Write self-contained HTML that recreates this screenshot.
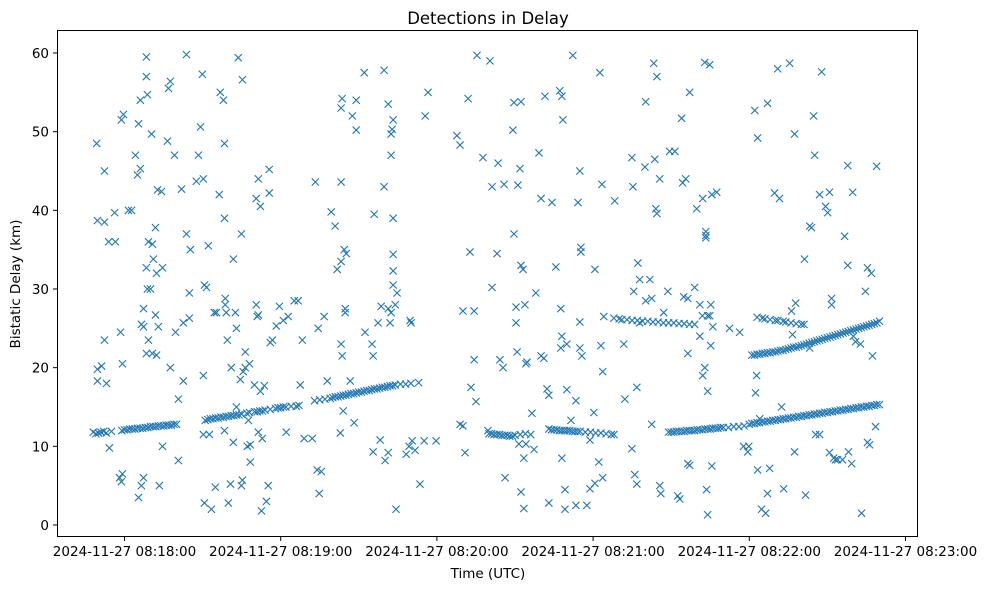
<!DOCTYPE html>
<html><head><meta charset="utf-8"><style>
html,body{margin:0;padding:0;background:#fff;}
svg{display:block;font-family:"DejaVu Sans","Liberation Sans",sans-serif;}
</style></head><body>
<svg id="chart" width="988" height="590" viewBox="0 0 988 590">
<rect x="0" y="0" width="988" height="590" fill="#fff"/>
<text x="488" y="24" text-anchor="middle" font-size="16.5" fill="#000">Detections in Delay</text>
<g id="marks"></g>
<rect x="57.5" y="30.5" width="860" height="506" fill="none" stroke="#000" stroke-width="1"/>
<g id="yaxis"></g>
<g id="xaxis"></g>
<text x="488" y="578" text-anchor="middle" font-size="13.5">Time (UTC)</text>
<text transform="translate(20,284) rotate(-90)" text-anchor="middle" font-size="13.5">Bistatic Delay (km)</text>
</svg>
<script>
// time in seconds after 2024-11-27 08:18:00, delay in km
const yTicks = [0,10,20,30,40,50,60];
const xTicks = [0,60,120,180,240,300];
const xTickLabels = ["2024-11-27 08:18:00","2024-11-27 08:19:00","2024-11-27 08:20:00","2024-11-27 08:21:00","2024-11-27 08:22:00","2024-11-27 08:23:00"];

const noiseLeft = [[-10.7,48.5],[-10.4,38.7],[-7.7,45],[-7.7,38.5],[-6.1,36],[-3.5,36],[-3.8,39.7],[1.5,40],[2.7,40],[-7.7,23.5],[-10.4,19.8],[-10.4,18.3],[-8.8,20.2],[-6.9,18],[-5.8,9.8],[-0.8,20.5],[-1.5,24.5],[-1.9,6],[-1.2,5.5],[-0.8,6.5],[4.2,47],[5.0,44.5],[6.1,45.3],[6.1,54],[8.4,59.5],[8.4,57],[8.8,54.7],[-1.2,51.5],[-0.4,52.2],[5.4,51],[10.4,49.7],[12.7,42.6],[14.2,42.4],[16.9,55.5],[17.6,56.4],[16.5,48.8],[19.2,47],[6.5,25.5],[7.3,25.2],[8.8,30],[7.3,27.5],[10.0,30],[9.2,23.5],[10.7,21.8],[9.2,36],[8.4,32.7],[11.1,33.8],[10.7,35.7],[11.9,37.8],[12.3,32],[14.6,32.7],[12.3,21.6],[8.4,21.8],[11.9,26.7],[13.0,25.2],[17.6,20],[19.6,24.5],[20.7,16],[20.7,8.2],[5.4,3.5],[7.3,6],[6.5,5],[13.4,5],[14.6,10],[22.6,25.7],[24.9,26.3],[21.9,42.7],[23.8,59.8],[23.8,37],[25.3,35],[24.9,29.5],[27.6,43.7],[28.4,47],[29.2,50.6],[30.3,44],[29.9,57.3],[30.7,30.5],[31.5,30.2],[32.2,35.5],[34.5,27],[35.3,27],[30.3,19],[22.6,18.3],[30.3,11.5],[32.6,11.5],[30.7,2.8],[33.4,2],[34.9,4.8],[36.8,55],[38.0,54],[38.4,48.5],[36.4,42],[38.4,39],[38.7,28],[38.7,28.8],[39.1,27],[39.5,23.5],[41.0,20],[38.4,12],[40.7,5.2],[39.9,2.8],[41.8,33.8],[43.7,59.4],[45.3,56.6],[44.9,37],[42.6,27],[43.0,25],[46.4,22],[45.6,19.5],[46.4,20],[44.5,18.5],[43.0,15],[47.6,13.3],[41.8,10.5],[47.2,10],[48.3,8],[44.9,5],[45.3,5.7],[50.6,41.5],[51.4,44],[52.2,40.5],[55.6,42.2],[55.6,45.2],[50.6,28],[51.4,26.7],[51.0,26.5],[56.8,23.5],[56.0,23.2],[49.9,17.8],[52.2,17],[53.7,17.7],[48.0,20.5],[51.4,11.8],[52.9,11],[48.3,10.2],[52.6,1.8],[54.5,3],[55.2,5],[58.3,25.3],[61.0,26],[59.5,27.8],[65.2,28.5],[62.9,26.5],[66.7,28.5],[62.1,11.8],[68.3,23.5],[67.5,17.8],[69.0,11],[73.3,43.6],[74.4,25],[72.1,11],[74.0,7],[75.6,6.8],[74.8,4],[77.9,18.3],[76.7,26.5],[79.4,39.8],[80.9,38],[81.7,32.5],[83.2,33.5],[83.2,43.6],[83.6,54.2],[83.2,53],[85.2,34.5],[84.4,35],[84.8,27.5],[84.8,27],[83.2,23],[83.6,21.5],[82.9,11.7],[89.0,54],[87.5,52],[89.0,50.2],[86.7,18.3],[84.0,14.5],[88.2,13],[92.1,57.5],[92.4,24.5],[95.1,23],[95.9,39.5],[97.4,25.7],[95.5,21.5],[95.5,9.3],[98.2,10.8],[99.7,57.8],[99.7,43],[98.6,27.8],[101.3,53.5],[101.3,27.5],[103.2,51.5],[102.8,50.3],[102.4,49.7],[102.4,47],[103.2,39],[103.2,34.4],[103.2,32.3],[103.2,30.5],[104.7,29.5],[102.4,27],[102.0,25.7],[100.1,8.2],[101.3,9.2],[104.3,2],[104.0,28],[109.7,26],[108.2,9],[109.3,10],[110.5,10.7],[111.6,9.5],[113.5,5.2],[115.5,52],[116.6,55],[115.1,10.7],[119.7,10.7],[110.1,25.7]];

const noiseMid = [[127.7,49.5],[128.9,48.3],[130.0,27.2],[128.9,12.8],[130.0,12.6],[130.8,9.2],[132.0,54.2],[132.7,34.7],[134.3,21],[133.1,17.5],[135.0,15.7],[134.3,27.2],[135.4,59.7],[137.7,46.7],[139.6,12],[140.4,59],[141.2,30.2],[141.2,43],[143.5,46],[143.1,34.5],[144.2,21],[145.4,20],[146.2,6],[145.8,43.3],[149.2,50.2],[149.6,53.7],[149.6,37],[150.4,27.7],[150.4,25.7],[150.8,22],[152.3,53.8],[151.9,45.3],[151.1,43.2],[152.3,33],[153.1,32.5],[151.5,10.3],[152.3,4.2],[153.4,2.1],[153.4,8.5],[154.2,20.5],[153.8,28],[156.5,14.2],[154.2,10.3],[154.6,20.7],[158.0,29.5],[159.2,47.3],[160.0,41.5],[157.3,9.6],[160.0,21.5],[161.1,21.2],[162.3,17.3],[163.0,16.5],[163.0,2.8],[161.5,54.5],[164.2,41],[165.7,32.8],[167.2,55.2],[168.0,54.5],[168.4,51.5],[167.6,27.5],[168.0,24],[167.6,22.5],[168.0,8.5],[169.2,4.5],[169.2,2],[169.9,17.2],[172.2,59.7],[169.9,23],[171.5,13.3],[173.4,15.8],[174.2,41],[173.4,2.5],[174.9,45],[175.3,35.3],[175.3,34.7],[174.9,25.8],[174.9,22.5],[175.7,21.5],[177.6,2.5],[180.3,14.3],[178.8,10.8],[180.7,32.5],[178.8,4.6],[180.7,5.3],[182.2,8],[182.6,57.5],[183.4,43.3],[184.1,26.5],[183.0,22.8],[183.7,19.5],[183.7,6],[188.3,41.2],[192.2,16],[191.8,23]];

const noiseRight = [[194.9,46.7],[195.3,43],[195.6,29.7],[194.9,9.7],[196.0,6.4],[196.8,5.2],[197.2,33.3],[196.8,17.5],[197.9,31.2],[199.9,45.5],[200.2,53.8],[197.9,25.7],[200.2,28.5],[201.8,31.2],[203.3,58.7],[204.5,57],[203.7,46.5],[204.1,40.2],[204.5,39.6],[205.6,44],[202.5,28.8],[202.5,12.8],[205.6,5],[206.0,4],[207.1,27],[208.7,29.7],[209.4,47.5],[211.4,47.5],[214.0,51.7],[212.5,3.7],[213.3,3.3],[214.4,43.5],[215.6,44],[214.8,29],[217.1,55],[216.4,28.8],[216.4,21.8],[216.4,7.8],[217.1,7.6],[219.8,40.2],[219.0,30.2],[221.0,28],[222.1,41.5],[223.3,37.3],[223.3,36.8],[223.3,36.5],[222.9,58.8],[224.8,58.5],[225.6,42],[227.5,42.3],[221.0,24],[222.9,20],[222.1,19],[225.2,28],[224.8,26.6],[225.2,22.8],[225.6,7.5],[223.6,4.5],[224.0,1.3],[224.0,17],[232.4,25],[236.3,24.5],[237.8,10],[239.8,10],[239.4,9.3],[242.1,52.7],[243.2,49.2],[242.4,16.8],[242.8,19],[244.0,13.5],[243.2,7],[244.7,2],[246.3,1.5],[247.0,53.6],[247.8,7.2],[247.0,4],[249.7,42.2],[251.6,41.5],[255.5,58.7],[250.9,58],[253.2,4.6],[252.4,15],[257.4,49.7],[257.8,28.2],[256.2,27.2],[256.6,24.2],[257.4,9.3],[261.6,3.8],[261.2,33.8],[263.2,38],[264.7,52],[265.1,47],[267.0,42],[265.5,11.5],[267.0,11.5],[267.8,57.6],[269.3,40.5],[270.1,39.7],[270.8,42.3],[271.6,28.8],[271.6,28],[270.8,9.2],[272.4,8.5],[273.1,8.3],[273.9,8.3],[275.8,8.3],[276.6,36.7],[277.8,45.7],[277.8,33],[278.1,9.3],[279.3,7.8],[280.0,24],[280.8,23.3],[279.7,42.3],[282.7,23],[284.6,29.7],[283.1,1.5],[285.4,32.7],[286.9,32],[285.4,10.5],[286.2,10.2],[287.3,21.5],[288.9,45.6],[288.5,12.5],[263.9,37.8],[263.2,22.5]];

const trackA = [[-12,11.8],[-11,11.6],[-10,11.7],[-9,11.8],[-8,11.9],[-7,11.7],[-5,11.9],[-1,12.0],[0,12.1],[1,12.1],[2,12.2],[3,12.2],[4,12.2],[5,12.3],[6,12.3],[7,12.3],[8,12.4],[9,12.4],[10,12.5],[11,12.5],[12,12.5],[13,12.6],[14,12.6],[15,12.6],[16,12.7],[17,12.7],[18,12.7],[19,12.8],[20,12.8]];
const trackB = [[31,13.3],[32,13.4],[33,13.5],[34,13.5],[35,13.6],[36,13.6],[37,13.7],[38,13.7],[39,13.8],[40,13.8],[41,13.9],[42,13.9],[43,14.0],[44,14.0],[45,14.1],[47,14.2],[48,14.3],[50,14.4],[51,14.4],[52,14.5],[53,14.5],[54,14.6],[56,14.7],[58,14.8],[59,14.9],[60,14.9],[61,15.0],[62,15.0],[64,15.1],[66,15.1],[67,15.2]];
const trackC = [[73,15.8],[75,15.9],[77,16.0],[79,16.1],[80,16.2],[81,16.3],[82,16.3],[83,16.4],[84,16.5],[85,16.5],[86,16.6],[87,16.7],[88,16.7],[89,16.8],[90,16.9],[91,16.9],[92,17.0],[93,17.1],[94,17.1],[95,17.2],[96,17.3],[97,17.3],[98,17.4],[99,17.5],[100,17.5],[101,17.6],[102,17.7],[103,17.7],[104,17.8],[106,17.9],[108,17.9],[110,18.0],[113,18.1]];
const trackD = [[140,11.6],[141,11.6],[142,11.5],[143,11.5],[144,11.5],[145,11.4],[146,11.4],[147,11.4],[148,11.3],[149,11.3],[150,11.4],[152,11.5],[154,11.6],[156,11.5],[163,12.2],[164,12.1],[165,12.1],[166,12.1],[167,12.0],[168,12.0],[169,12.0],[170,12.0],[171,12.0],[172,11.9],[173,11.9],[174,11.9],[175,11.9],[177,11.8],[179,11.8],[181,11.7],[183,11.7],[185,11.6],[187,11.5],[188,11.5]];
const trackE = [[209,11.8],[210,11.8],[211,11.8],[212,11.9],[213,11.9],[214,11.9],[215,11.9],[216,12.0],[217,12.0],[218,12.0],[219,12.0],[220,12.1],[221,12.1],[222,12.1],[223,12.2],[224,12.2],[225,12.2],[226,12.3],[227,12.3],[228,12.3],[229,12.4],[230,12.4],[232,12.4],[234,12.5],[236,12.5],[238,12.6],[240,12.8],[241,12.9],[242,12.9],[243,13.0],[244,13.0],[245,13.1],[246,13.1],[247,13.2],[248,13.2],[249,13.3],[250,13.3],[251,13.4],[252,13.4],[253,13.5],[254,13.5],[255,13.6],[256,13.6],[257,13.7],[258,13.7],[259,13.8],[260,13.8],[261,13.9],[262,13.9],[263,14.0],[264,14.0],[265,14.1],[266,14.1],[267,14.2],[268,14.2],[269,14.3],[270,14.3],[271,14.4],[272,14.4],[273,14.5],[274,14.5],[275,14.6],[276,14.6],[277,14.7],[278,14.7],[279,14.8],[280,14.8],[281,14.9],[282,14.9],[283,15.0],[284,15.0],[285,15.1],[286,15.1],[287,15.2],[288,15.2],[289,15.3],[290,15.3]];
const trackF = [[241,21.6],[242,21.6],[243,21.7],[244,21.7],[245,21.8],[246,21.8],[247,21.9],[248,21.9],[249,22.0],[250,22.0],[251,22.1],[252,22.2],[253,22.2],[254,22.3],[255,22.4],[256,22.5],[257,22.6],[258,22.6],[259,22.7],[260,22.8],[261,22.9],[262,23.0],[263,23.1],[264,23.2],[265,23.3],[266,23.4],[267,23.5],[268,23.6],[269,23.7],[270,23.8],[271,23.9],[272,24.0],[273,24.1],[274,24.2],[275,24.3],[276,24.4],[277,24.5],[278,24.6],[279,24.7],[280,24.8],[281,24.9],[282,25.0],[283,25.1],[284,25.2],[285,25.3],[286,25.4],[287,25.5],[288,25.6],[289,25.7],[290,25.9]];
const bandG = [[188,26.3],[190,26.2],[191,26.1],[193,26.1],[195,26.0],[197,26.0],[199,25.9],[201,25.9],[203,25.8],[205,25.8],[207,25.7],[209,25.7],[211,25.7],[213,25.6],[215,25.6],[217,25.5],[219,25.5],[222,26.6],[224,26.6],[226,25.2]];
const bandH = [[243,26.4],[245,26.3],[246,26.2],[248,26.1],[250,26.0],[251,26.0],[253,25.9],[254,25.8],[256,25.7],[258,25.6],[260,25.5],[261,25.5]];

const NS = "http://www.w3.org/2000/svg";
function xScale(t){ return 124.5 + t * (156.2/60); }
function yScale(d){ return 525 - d * (472/60); }

const marks = document.getElementById('marks');
function drawSeries(arr, name){
  arr.forEach(function(p){
    const cx = xScale(p[0]), cy = yScale(p[1]), h = 3.6;
    const path = document.createElementNS(NS,'path');
    path.setAttribute('d','M'+(cx-h)+' '+(cy-h)+'L'+(cx+h)+' '+(cy+h)+'M'+(cx-h)+' '+(cy+h)+'L'+(cx+h)+' '+(cy-h));
    path.setAttribute('stroke','#1f77b4');
    path.setAttribute('stroke-width','1.1');
    path.setAttribute('fill','none');
    
    
    marks.appendChild(path);
  });
}
drawSeries(noiseLeft,'detection-point');
drawSeries(noiseMid,'detection-point');
drawSeries(noiseRight,'detection-point');
drawSeries(trackA,'track-point');
drawSeries(trackB,'track-point');
drawSeries(trackC,'track-point');
drawSeries(trackD,'track-point');
drawSeries(trackE,'track-point');
drawSeries(trackF,'track-point');
drawSeries(bandG,'track-point');
drawSeries(bandH,'track-point');

const yaxis = document.getElementById('yaxis');
yTicks.forEach(function(v){
  const y = yScale(v);
  const ln = document.createElementNS(NS,'line');
  ln.setAttribute('x1',53); ln.setAttribute('x2',57.5);
  ln.setAttribute('y1',y); ln.setAttribute('y2',y);
  ln.setAttribute('stroke','#000');
  
  
  yaxis.appendChild(ln);
  const tx = document.createElementNS(NS,'text');
  tx.setAttribute('x',49); tx.setAttribute('y',y+5);
  tx.setAttribute('text-anchor','end'); tx.setAttribute('font-size','13.5');
  tx.textContent = v;
  
  
  yaxis.appendChild(tx);
});
const xaxis = document.getElementById('xaxis');
xTicks.forEach(function(v,i){
  const x = xScale(v);
  const ln = document.createElementNS(NS,'line');
  ln.setAttribute('x1',x); ln.setAttribute('x2',x);
  ln.setAttribute('y1',536.5); ln.setAttribute('y2',541);
  ln.setAttribute('stroke','#000');
  
  
  xaxis.appendChild(ln);
  const tx = document.createElementNS(NS,'text');
  tx.setAttribute('x',x); tx.setAttribute('y',556);
  tx.setAttribute('text-anchor','middle'); tx.setAttribute('font-size','13.5');
  tx.textContent = xTickLabels[i];
  
  
  xaxis.appendChild(tx);
});
</script>
</body></html>
